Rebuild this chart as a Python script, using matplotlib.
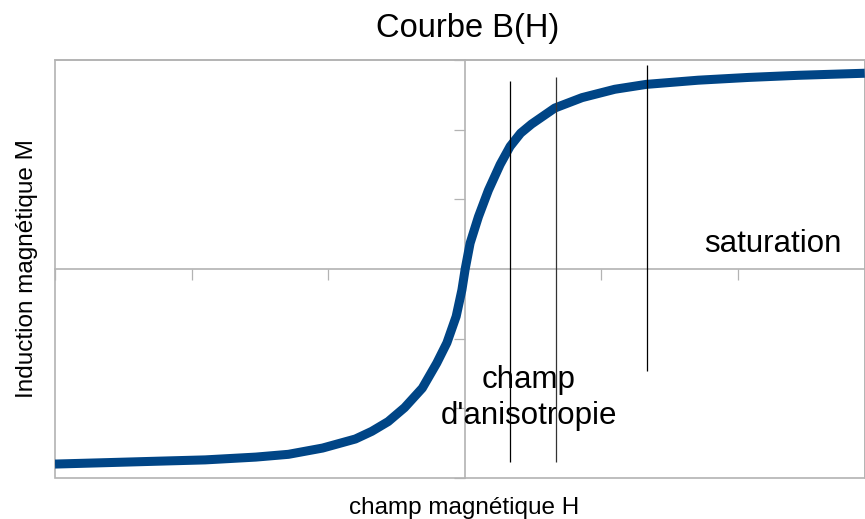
import matplotlib.pyplot as plt

plt.rcParams['font.family'] = ['Liberation Sans', 'DejaVu Sans']

# values (H and M in tick units)
champ_h = [-3.0, -2.63, -2.27, -1.90, -1.53, -1.29, -1.04, -0.80, -0.68, -0.56, -0.44,
           -0.31, -0.204, -0.130, -0.062, -0.020, 0.004, 0.040, 0.101, 0.174, 0.26,
           0.333, 0.41, 0.49, 0.66, 0.86, 1.10, 1.33, 1.71, 2.08, 2.44, 2.93]
induction_m = [-2.80, -2.78, -2.76, -2.74, -2.70, -2.66, -2.57, -2.44, -2.33, -2.19, -1.99,
               -1.71, -1.35, -1.06, -0.68, -0.30, 0.0, 0.37, 0.75, 1.13, 1.50,
               1.76, 1.95, 2.08, 2.31, 2.46, 2.58, 2.65, 2.71, 2.75, 2.78, 2.81]

# vertical marker lines: x position, bottom, top
marker_x = [0.333, 0.668, 1.334]
marker_bottom = [-2.77, -2.77, -1.47]
marker_top = [2.70, 2.76, 2.93]
marker_colors = ['black', '#333333', 'black']

x_ticks = [-3, -2, -1, 1, 2]
y_ticks = [-3, -2, -1, 1, 2, 3]

grey = '#b3b3b3'

fig = plt.figure(figsize=(8.65, 5.19), dpi=100)
ax = fig.add_axes([55 / 865, 1 - 478 / 519, 810 / 865, 418 / 519])

ax.set_xlim(-3.0, 2.932)
ax.set_ylim(-3, 3)

# plot area frame
for s in ['top', 'right']:
    ax.spines[s].set_color(grey)
    ax.spines[s].set_linewidth(1.2)
ax.patch.set_edgecolor(grey)
ax.patch.set_linewidth(1.2)

# axes crossing at zero
ax.spines['left'].set_position(('data', 0))
ax.spines['bottom'].set_position(('data', 0))
ax.spines['left'].set_color(grey)
ax.spines['bottom'].set_color(grey)
ax.spines['left'].set_linewidth(1.2)
ax.spines['bottom'].set_linewidth(1.2)
ax.set_xticks(x_ticks)
ax.set_yticks(y_ticks)
ax.set_xticklabels([])
ax.set_yticklabels([])
ax.tick_params(axis='x', direction='out', length=8, width=0.9, color=grey)
ax.tick_params(axis='y', direction='out', length=8, width=0.9, color=grey)

ax.plot(champ_h, induction_m, color='#004586', linewidth=6.5,
        solid_capstyle='butt', solid_joinstyle='round', zorder=3)

for x, b, t, c in zip(marker_x, marker_bottom, marker_top, marker_colors):
    ax.vlines(x, b, t, color=c, linewidth=0.9, zorder=4)

ax.text(2.26, 0.244, 'saturation', fontsize=22.5, ha='center', va='baseline')
ax.text(0.47, -1.71, 'champ', fontsize=22.5, ha='center', va='baseline')
ax.text(0.47, -2.22, "d'anisotropie", fontsize=22.5, ha='center', va='baseline')

fig.text(468 / 865, 1 - 37 / 519, 'Courbe B(H)', fontsize=23.5, ha='center', va='baseline')
fig.text(464 / 865, 1 - 514 / 519, 'champ magnétique H', fontsize=17.5, ha='center', va='baseline')
fig.text(33 / 865, 1 - 269 / 519, 'Induction magnétique M', fontsize=17.5, rotation=90,
         ha='center', va='baseline', rotation_mode='anchor')

fig.savefig('out.png', dpi=100)
